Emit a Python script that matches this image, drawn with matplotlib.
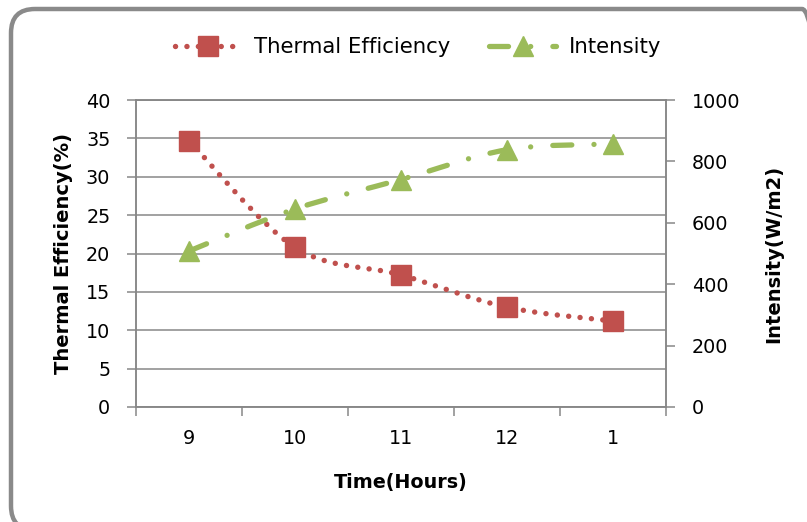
import numpy as np
import matplotlib
matplotlib.use("Agg")
import matplotlib.pyplot as plt
from matplotlib.path import Path
from matplotlib.patches import PathPatch, FancyBboxPatch
from matplotlib.lines import Line2D

# data
hours = ["9", "10", "11", "12", "1"]
efficiency = [34.7, 20.8, 17.2, 13.0, 11.2]      # %
intensity = [508, 645, 741, 838, 857]            # W/m2

red = "#C0504D"
green = "#9BBB59"
grid_c = "#878787"

plt.rcParams["font.family"] = ["DejaVu Sans"]


def smooth(xs, ys):
    # excel style smoothed line (bezier, 1/6 tension)
    p = np.column_stack([xs, ys]).astype(float)
    verts = [p[0]]
    codes = [Path.MOVETO]
    for i in range(len(p) - 1):
        a = p[i - 1] if i > 0 else p[i]
        d = p[i + 2] if i + 2 < len(p) else p[i + 1]
        verts += [p[i] + (p[i + 1] - a) / 6, p[i + 1] - (d - p[i]) / 6, p[i + 1]]
        codes += [Path.CURVE4] * 3
    return Path(verts, codes)


fig = plt.figure(figsize=(8.07, 5.22), dpi=100)
ax = fig.add_axes([136 / 807, 1 - 407 / 522, 530 / 807, 307 / 522])
ax2 = ax.twinx()

# rounded frame around the chart (runs off right/bottom edge like the original)
frame = FancyBboxPatch((11, -8), 815, 521, boxstyle="round,pad=0,rounding_size=24",
                       transform=None, fill=False, edgecolor="#8a8a8a", linewidth=3.2,
                       clip_on=False)
fig.patches.append(frame)

x = np.arange(len(hours))

dot_ls = (0, (0.01, 2.1))
dashdot_ls = (0, (3.6, 4.2, 0.01, 4.2))

ax.add_patch(PathPatch(smooth(x, efficiency), fill=False, edgecolor=red, lw=3.9,
                       linestyle=dot_ls, capstyle="round", zorder=3))
ax.plot(x, efficiency, linestyle="none", marker="s", markersize=14.5, color=red,
        markeredgecolor=red, zorder=4)

ax2.add_patch(PathPatch(smooth(x, intensity), fill=False, edgecolor=green, lw=3.8,
                        linestyle=dashdot_ls, capstyle="round", zorder=3))
ax2.plot(x, intensity, linestyle="none", marker="^", markersize=15, color=green,
         markeredgecolor=green, zorder=4)

ax.set_xlim(-0.5, 4.5)
ax.set_ylim(0, 40)
ax2.set_ylim(0, 1000)
ax.set_yticks(np.arange(0, 41, 5))
ax2.set_yticks(np.arange(0, 1001, 200))
ax.set_xticks(x)
ax.set_xticklabels(hours)
ax.set_xticks(np.arange(-0.5, 4.6, 1), minor=True)

ax.grid(axis="y", color=grid_c, lw=1.1)
ax.set_axisbelow(True)

for a in (ax, ax2):
    for s in a.spines.values():
        s.set_color(grid_c)
        s.set_linewidth(1.1)

ax.tick_params(axis="y", length=6.5, width=1.1, color=grid_c, pad=12, labelsize=13.8)
ax2.tick_params(axis="y", length=6.5, width=1.1, color=grid_c, pad=12, labelsize=13.8)
ax.tick_params(axis="x", which="major", length=0, pad=16, labelsize=13.8)
ax.tick_params(axis="x", which="minor", length=6.5, width=1.1, color=grid_c)

ax.set_xlabel("Time(Hours)", fontsize=13.8, fontweight="bold", labelpad=18)
ax.set_ylabel("Thermal Efficiency(%)", fontsize=14, fontweight="bold", labelpad=9)
ax2.set_ylabel("Intensity(W/m2)", fontsize=14, fontweight="bold", labelpad=17)

handles = [
    Line2D([], [], color=red, lw=3.9, linestyle=dot_ls, marker="s", markersize=14.5,
           dash_capstyle="round"),
    Line2D([], [], color=green, lw=3.8, linestyle=dashdot_ls, marker="^", markersize=15,
           dash_capstyle="round"),
]
fig.legend(handles, ["Thermal Efficiency", "Intensity"], loc="center",
           bbox_to_anchor=(418 / 807, 1 - 47 / 522), ncol=2, frameon=False,
           fontsize=15.3, handlelength=3.15, columnspacing=1.8, handletextpad=0.6)

fig.savefig("out.png", dpi=100)
